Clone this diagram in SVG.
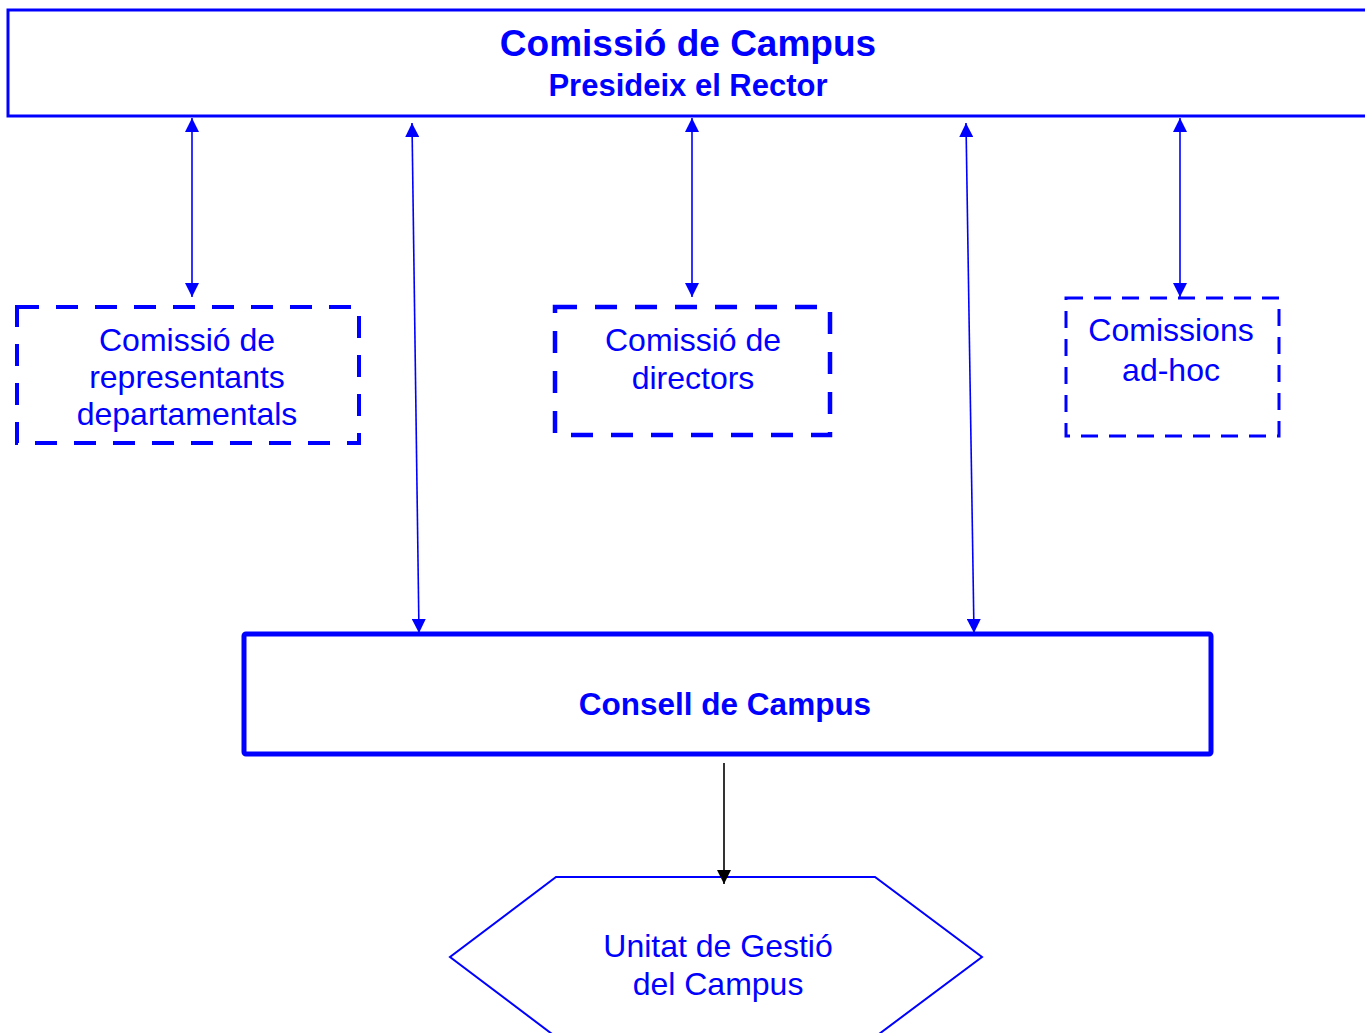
<svg xmlns="http://www.w3.org/2000/svg" width="1365" height="1033" viewBox="0 0 1365 1033">
<style>
  .t { font-family: "Liberation Sans", Arial, sans-serif; fill: #0000ff; text-anchor: middle; }
  .b { font-weight: bold; }
  .r { font-size: 32px; }
  .box { fill: #ffffff; stroke: #0000ff; }
  .con { stroke: #0000ff; stroke-width: 1.6; fill: none; }
</style>
<defs>
  <marker id="ab" markerUnits="userSpaceOnUse" markerWidth="14" markerHeight="14" refX="14" refY="7" orient="auto-start-reverse" viewBox="0 0 14 14">
    <path d="M0,0 L14,7 L0,14 z" fill="#0000ff"/>
  </marker>
  <marker id="ak" markerUnits="userSpaceOnUse" markerWidth="14" markerHeight="14" refX="14" refY="7" orient="auto" viewBox="0 0 14 14">
    <path d="M0,0 L14,7 L0,14 z" fill="#000000"/>
  </marker>
</defs>
<rect width="1365" height="1033" fill="#ffffff"/>

<g id="comissio-campus">
  <rect class="box" x="8" y="10" width="1370" height="106" stroke-width="3"/>
  <text class="t b" x="688" y="56" font-size="37">Comissió de Campus</text>
  <text class="t b" x="688" y="96" font-size="31">Presideix el Rector</text>
</g>

<g id="comissio-representants">
  <rect class="box" x="17" y="307" width="342" height="136" stroke-width="4" stroke-dasharray="22 17"/>
  <text class="t r" x="187" y="351">Comissió de</text>
  <text class="t r" x="187" y="388">representants</text>
  <text class="t r" x="187" y="425">departamentals</text>
</g>

<g id="comissio-directors">
  <rect class="box" x="555" y="307" width="275" height="128" stroke-width="4.5" stroke-dasharray="22 18"/>
  <text class="t r" x="693" y="351">Comissió de</text>
  <text class="t r" x="693" y="389">directors</text>
</g>

<g id="comissions-adhoc">
  <rect class="box" x="1066" y="298" width="213" height="138" stroke-width="3" stroke-dasharray="17 11"/>
  <text class="t r" x="1171" y="341">Comissions</text>
  <text class="t r" x="1171" y="381">ad-hoc</text>
</g>

<g id="consell-campus">
  <rect class="box" x="244" y="634" width="967" height="120" rx="2" stroke-width="5"/>
  <text class="t b" x="725" y="715" font-size="31.5">Consell de Campus</text>
</g>

<g id="unitat-gestio">
  <polygon class="box" points="556,877 875,877 982,957 875,1037 556,1037 450,957" stroke-width="2"/>
  <text class="t r" x="718" y="957">Unitat de Gestió</text>
  <text class="t r" x="718" y="995">del Campus</text>
</g>

<g id="connectors">
  <line class="con" x1="192" y1="118" x2="192" y2="297" marker-start="url(#ab)" marker-end="url(#ab)"/>
  <line class="con" x1="412" y1="123" x2="419" y2="633" marker-start="url(#ab)" marker-end="url(#ab)"/>
  <line class="con" x1="692" y1="118" x2="692" y2="297" marker-start="url(#ab)" marker-end="url(#ab)"/>
  <line class="con" x1="966" y1="123" x2="974" y2="633" marker-start="url(#ab)" marker-end="url(#ab)"/>
  <line class="con" x1="1180" y1="118" x2="1180" y2="297" marker-start="url(#ab)" marker-end="url(#ab)"/>
  <line x1="724" y1="763" x2="724" y2="884" stroke="#000000" stroke-width="1.6" marker-end="url(#ak)"/>
</g>
</svg>
